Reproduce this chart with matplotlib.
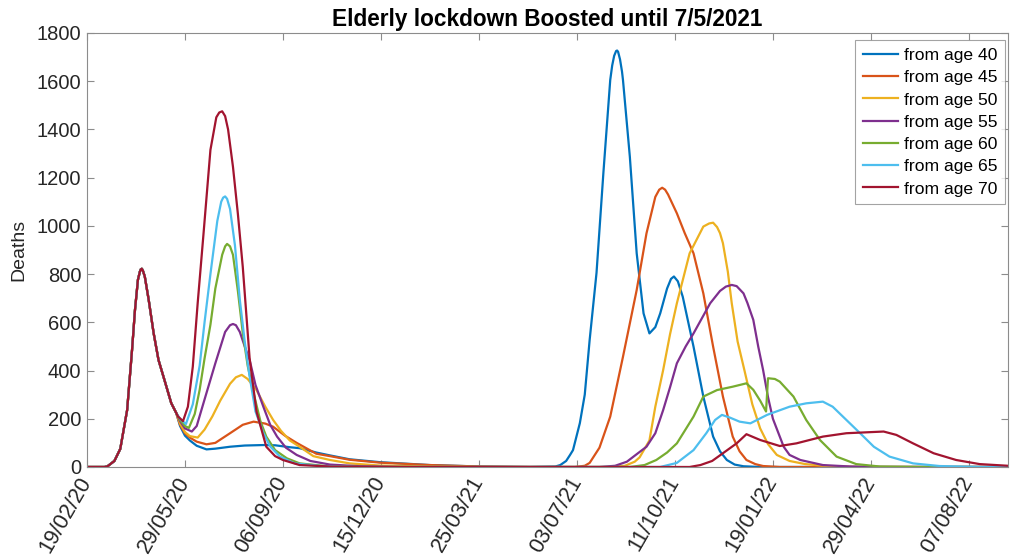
import matplotlib
matplotlib.use('Agg')
import matplotlib.pyplot as plt

plt.rcParams['font.family'] = ['Liberation Sans', 'DejaVu Sans']

title = 'Elderly lockdown Boosted until 7/5/2021'
ylabel = 'Deaths'
tick_days = [0, 100, 200, 300, 400, 500, 600, 700, 800, 900]
tick_labels = ['19/02/20', '29/05/20', '06/09/20', '15/12/20', '25/03/21',
               '03/07/21', '11/10/21', '19/01/22', '29/04/22', '07/08/22']
y_ticks = [0, 200, 400, 600, 800, 1000, 1200, 1400, 1600, 1800]
labels = ['from age 40', 'from age 45', 'from age 50', 'from age 55',
          'from age 60', 'from age 65', 'from age 70']
colors = ['#0072BD', '#D95319', '#EDB120', '#7E2F8E', '#77AC30', '#4DBEEE', '#A2142F']

# shared first wave (days since 19/02/20)
wave1_days = [0, 18, 21, 28, 34, 41, 46, 49, 52, 54, 55, 56, 57, 59, 63, 68, 73, 80, 86, 91]
wave1_vals = [0, 0, 3, 25, 75, 236, 485, 651, 776, 810, 820, 822, 815, 790, 693, 556, 444, 348, 265, 225]

days40 = wave1_days + [95, 100, 105, 112, 122, 131, 146, 161, 180, 192,
                       207, 217, 234, 248, 268, 299, 350, 401, 452, 478,
                       483, 489, 493, 496, 503, 508, 513, 520, 527, 534,
                       536, 538, 540, 541, 542, 544, 546, 547, 554, 561,
                       568, 574, 580, 585, 592, 596, 599, 603, 608, 619,
                       629, 639, 646, 653, 661, 670, 687, 940]
vals40 = wave1_vals + [170, 130, 110, 88, 73, 76, 84, 89, 91, 90,
                       82, 78, 60, 48, 32, 20, 8, 2, 0, 2,
                       8, 25, 50, 70, 182, 300, 527, 805, 1219, 1605,
                       1665, 1705, 1725, 1727, 1722, 1690, 1640, 1605, 1287, 886,
                       637, 554, 580, 637, 740, 780, 790, 770, 706, 499,
                       292, 126, 65, 29, 10, 3, 0, 0]

days45 = wave1_days + [95, 100, 105, 112, 122, 131, 146, 159, 170, 182,
                       190, 202, 214, 234, 248, 268, 299, 350, 401, 452,
                       498, 508, 513, 523, 534, 547, 561, 571, 580, 584,
                       587, 590, 593, 602, 610, 619, 629, 639, 649, 659,
                       666, 673, 682, 690, 707, 940]
vals45 = wave1_vals + [175, 140, 122, 105, 94, 100, 140, 175, 188, 180,
                       167, 130, 100, 55, 45, 30, 18, 8, 2, 0,
                       0, 5, 17, 80, 209, 457, 734, 969, 1120, 1150,
                       1158, 1150, 1130, 1052, 970, 886, 720, 499, 292, 126,
                       65, 29, 12, 4, 0, 0]

days50 = wave1_days + [95, 100, 105, 113, 120, 128, 136, 146, 152, 158,
                       164, 173, 182, 190, 198, 207, 217, 231, 248, 268,
                       299, 350, 401, 534, 549, 559, 564, 574, 580, 588,
                       595, 602, 615, 629, 635, 639, 643, 646, 649, 654,
                       658, 664, 671, 679, 687, 695, 704, 717, 733, 758,
                       789, 940]
vals50 = wave1_vals + [180, 145, 128, 122, 155, 210, 275, 345, 372, 382,
                       365, 319, 250, 195, 150, 110, 84, 45, 29, 15,
                       6, 2, 0, 0, 5, 22, 40, 110, 250, 402,
                       550, 679, 886, 997, 1010, 1013, 995, 970, 928, 810,
                       679, 520, 400, 260, 160, 95, 50, 25, 12, 3,
                       0, 0]

days55 = wave1_days + [95, 100, 107, 112, 120, 131, 141, 146, 149, 152,
                       156, 161, 166, 172, 180, 187, 194, 203, 214, 228,
                       248, 279, 319, 523, 539, 551, 560, 571, 580, 588,
                       595, 602, 611, 619, 636, 646, 652, 658, 663, 670,
                       674, 680, 685, 690, 695, 700, 711, 717, 728, 751,
                       779, 809, 940]
vals55 = wave1_vals + [190, 160, 147, 170, 280, 430, 560, 588, 593, 588,
                       560, 500, 444, 340, 250, 175, 126, 80, 50, 25,
                       10, 3, 0, 0, 5, 22, 50, 84, 140, 236,
                       330, 430, 500, 554, 679, 730, 748, 755, 750, 720,
                       680, 610, 500, 402, 290, 200, 84, 50, 29, 8,
                       2, 0, 0]

days60 = wave1_days + [95, 100, 104, 110, 115, 120, 126, 131, 138, 141,
                       143, 146, 149, 154, 159, 164, 170, 177, 183, 192,
                       204, 217, 243, 279, 554, 569, 581, 592, 602, 610,
                       619, 629, 643, 659, 673, 680, 687, 693, 695, 702,
                       707, 721, 734, 748, 765, 785, 809, 850, 940]
vals60 = wave1_vals + [195, 170, 162, 220, 320, 450, 590, 740, 880, 915,
                       925, 915, 880, 730, 556, 420, 307, 190, 126, 70,
                       36, 15, 4, 0, 0, 8, 29, 60, 98, 150,
                       209, 292, 319, 333, 347, 320, 275, 230, 368, 365,
                       354, 292, 195, 112, 43, 12, 2, 0, 0]

days65 = wave1_days + [95, 101, 108, 115, 120, 126, 133, 137, 139, 141,
                       143, 146, 151, 156, 161, 166, 172, 180, 187, 197,
                       212, 238, 279, 585, 602, 619, 632, 641, 648, 656,
                       666, 677, 694, 717, 734, 751, 761, 775, 789, 803,
                       819, 843, 870, 911, 940]
vals65 = wave1_vals + [200, 178, 260, 420, 600, 800, 1020, 1100, 1117, 1122,
                       1112, 1070, 920, 693, 520, 375, 230, 141, 85, 43,
                       15, 4, 0, 0, 17, 70, 140, 195, 216, 205,
                       188, 181, 216, 250, 264, 271, 250, 195, 140, 84,
                       43, 15, 4, 0, 0]

days70 = wave1_days + [93, 98, 103, 108, 113, 119, 126, 132, 135, 138,
                       141, 144, 149, 154, 159, 166, 173, 183, 192, 200,
                       217, 248, 319, 615, 626, 638, 649, 663, 673, 687,
                       707, 724, 751, 775, 813, 826, 843, 864, 887, 911, 940]
vals70 = wave1_vals + [209, 190, 250, 416, 680, 970, 1315, 1450, 1470, 1475,
                       1455, 1400, 1245, 1050, 830, 450, 230, 84, 45, 29,
                       8, 2, 0, 0, 8, 25, 57, 98, 136, 112,
                       87, 98, 126, 140, 147, 133, 98, 57, 29, 12, 5]

series_days = [days40, days45, days50, days55, days60, days65, days70]
series_vals = [vals40, vals45, vals50, vals55, vals60, vals65, vals70]

fig = plt.figure(figsize=(10.10, 5.59), dpi=100)
ax = fig.add_axes([0.0861, 0.1646, 0.912, 0.7765])

for d, v, c, lab in zip(series_days, series_vals, colors, labels):
    ax.plot(d, v, color=c, lw=1.6, label=lab, solid_joinstyle='round')

ax.set_xlim(0, 940)
ax.set_ylim(0, 1800)
ax.set_xticks(tick_days)
ax.set_xticklabels(tick_labels, rotation=60, ha='right', va='center',
                   rotation_mode='anchor', fontsize=15.5, color='#262626')
ax.set_yticks(y_ticks)
ax.set_yticklabels([str(t) for t in y_ticks], fontsize=14.5, color='#262626')
ax.tick_params(axis='both', direction='in', length=5, width=0.8, color='#8c8c8c',
               top=True, right=True)
ax.tick_params(axis='x', pad=8)
ax.tick_params(axis='y', pad=4)
for s in ax.spines.values():
    s.set_color('#8c8c8c')
    s.set_linewidth(0.8)

ax.set_title(title, fontsize=16.3, fontweight='bold', color='black', pad=5)
ax.set_ylabel(ylabel, fontsize=14, color='#262626', labelpad=7)

leg = ax.legend(loc='upper right', bbox_to_anchor=(0.9967, 0.9839),
                fontsize=12.6, frameon=True, fancybox=False,
                edgecolor='#8c8c8c', handlelength=2.05, handletextpad=0.3,
                labelspacing=0.4, borderpad=0.45, borderaxespad=0.0)
leg.get_frame().set_linewidth(0.8)

fig.savefig('out.png', dpi=100)
